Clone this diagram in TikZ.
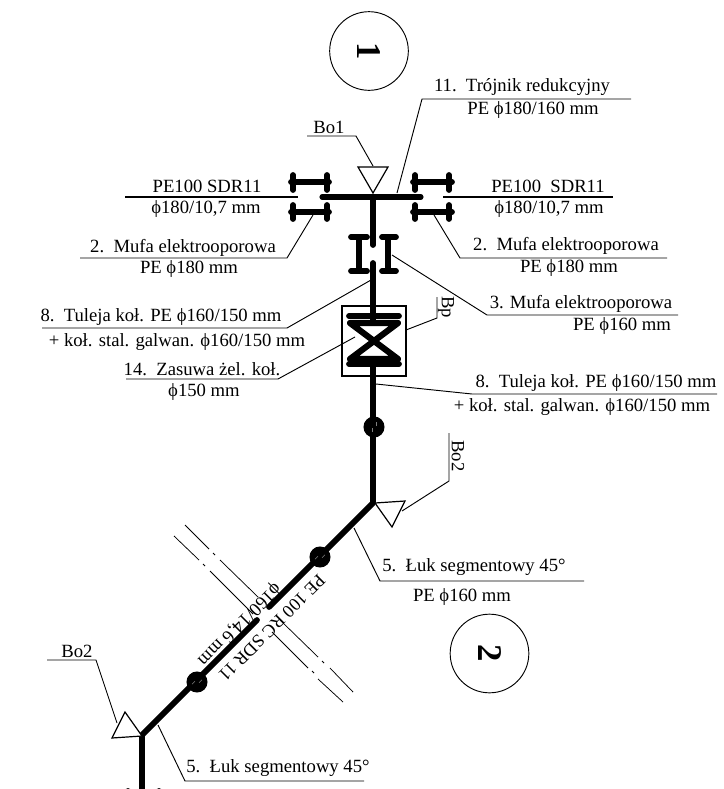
\documentclass[tikz,border=0pt]{standalone}
\usepackage{fontspec}
\setmainfont{Liberation Serif}
\tikzset{
  pipeline/.style={line width=4.3pt},
  mufaline/.style={line width=4.3pt,line cap=round},
  leaderline/.style={line width=0.7pt},
  capt/.style={font=\fontsize{14}{16}\selectfont,inner sep=0pt},
  symb/.style={draw,line width=0.9pt,fill=white},
  axisline/.style={line width=0.55pt},
  ball/.style={circle,fill=black,minimum size=15.8pt,inner sep=0pt},
  hatchline/.style={gray,line width=0.4pt},
  sheetcirc/.style={circle,draw,line width=0.7pt,minimum size=59pt,inner sep=0pt,font=\fontsize{26}{28}\selectfont\bfseries,rotate=-90},
}
\begin{document}
\begin{tikzpicture}[x=0.75pt,y=-0.75pt]
    \useasboundingbox (0,0) rectangle (724,789);
    % sheet markers
    \node[sheetcirc] (s1) at (369,51) {1};
    \node[sheetcirc] (s2) at (489.5,653.5) {2};
    % pipe
    \coordinate (tee) at (373,197);
    \coordinate (elbowA) at (373,503);
    \coordinate (elbowB) at (142,735);
    \draw[line width=2pt] (125,197) -- (298,197);
    \draw[line width=2pt] (443,197) -- (613,197);
    \draw[line width=3.8pt,line cap=round] (322,197) -- (421,197);
    \draw[pipeline,line cap=round] (tee) -- (373,245);
    \draw[pipeline,line cap=round] (373,263) -- (373,320);
    \draw[pipeline] (373,362) -- (elbowA);
    \draw[pipeline,line cap=round] (elbowA) -- (269,607);
    \draw[pipeline,line cap=round] (257,620) -- (elbowB);
    \draw[pipeline] (elbowB) -- (142,789);
    % couplings on the main
    \foreach \xa/\xb/\xc/\xd in {291/329/293/327,413/452/415/449}{
      \draw[mufaline] (\xa,182) -- (\xb,182);
      \draw[mufaline] (\xc,175) -- (\xc,190);
      \draw[mufaline] (\xd,175) -- (\xd,190);
      \draw[mufaline] (\xa,212) -- (\xb,212);
      \draw[mufaline] (\xc,205) -- (\xc,219);
      \draw[mufaline] (\xd,205) -- (\xd,219);
    }
    % coupling on the branch
    \foreach \xa/\xb/\xc in {351/367/359,382/396/388}{
      \draw[mufaline] (\xc,237) -- (\xc,271);
      \draw[mufaline] (\xa,237) -- (\xb,237);
      \draw[mufaline] (\xa,271) -- (\xb,271);
    }
    % bottom coupling, cut off by the sheet edge
    \draw[mufaline] (128,791) -- (128,800);
    \draw[mufaline] (159,791) -- (159,800);
    % valve
    \node[draw,line width=0.9pt,minimum width=48pt,minimum height=52.5pt,inner sep=0pt] (box) at (374,341) {};
    \draw[mufaline] (349,316) -- (399,316);
    \draw[mufaline] (349,364) -- (399,364);
    \draw[line width=4.6pt,line join=round] (350,323) -- (398,323) -- (350,359) -- (398,359) -- cycle;
    % balls
    \foreach \px/\py/\ang in {374/427/90,320/557/45,197/682/45}{
      \node[ball] (b\px) at (\px,\py) {};
      \draw[hatchline,rotate around={\ang:(\px,\py)}] (\px-5,\py-2) -- (\px-1,\py-2) (\px+1,\py+2) -- (\px+5,\py+2);
    }
    % triangles
    \draw[symb] (358,167) -- (388,167) -- (373,193) -- cycle;
    \draw[symb] (375,503) -- (405,501) -- (392,527) -- cycle;
    \draw[symb] (142,736) -- (112,738) -- (125,712) -- cycle;
    % axes
    \draw[axisline] (185,525) -- (209,549) (213,553) -- (215,555) (220,560) -- (258,597);
    \draw[axisline] (280,620) -- (318,657) (322,661) -- (324,663) (330,668) -- (353,692);
    \draw[axisline] (174,536) -- (199,560) (203,564) -- (205,566) (210,571) -- (253,614);
    \draw[axisline] (272,632) -- (308,668) (312,671) -- (314,673) (318,679) -- (343,702);
    % leaders
    \draw[leaderline] (373,166) -- (356,136) -- (307,136);
    \draw[leaderline] (397,193) -- (422,99) -- (631,99);
    \draw[leaderline] (313,215) -- (287,258) -- (80,258);
    \draw[leaderline] (434,215) -- (460,258) -- (667,258);
    \draw[leaderline] (392,255) -- (487,315) -- (678,315);
    \draw[leaderline] (406,330) -- (437,318) -- (437,297);
    \draw[leaderline] (371,280) -- (287,328) -- (42,328);
    \draw[leaderline] (355,337) -- (278,379) -- (126,379);
    \draw[leaderline] (376,384) -- (472,394) -- (717,394);
    \draw[leaderline] (402,511) -- (449,481) -- (449,433);
    \draw[leaderline] (117,723) -- (96,660) -- (47,660);
    \draw[leaderline] (354,528) -- (380,581) -- (584,581);
    \draw[leaderline] (158,725) -- (185,781) -- (364,781);
    % captions
    \node[capt] (bo1) at (329,127) {Bo1};
    \node[capt] (t11a) at (522,87) {11.\ \ Trójnik redukcyjny};
    \node[capt] (t11b) at (533,110) {PE ϕ180/160 mm};
    \node[capt] (pl1) at (207,186) {PE100 SDR11};
    \node[capt] (pl2) at (206,209) {ϕ180/10,7 mm};
    \node[capt] (pr1) at (548,186) {PE100\ \ SDR11};
    \node[capt] (pr2) at (549,209) {ϕ180/10,7 mm};
    \node[capt] (ml1) at (183,248) {2.\ \ Mufa elektrooporowa};
    \node[capt] (ml2) at (189,269) {PE ϕ180 mm};
    \node[capt] (mr1) at (566,246) {2.\ \ Mufa elektrooporowa};
    \node[capt] (mr2) at (569,268) {PE ϕ180 mm};
    \node[capt] (m31) at (581,304) {3. Mufa elektrooporowa};
    \node[capt] (m32) at (622,326) {PE ϕ160 mm};
    \node[capt,rotate=-90] (bp) at (446,307) {Bp};
    \node[capt] (tl1) at (161,317) {8.\ \ Tuleja koł. PE ϕ160/150 mm};
    \node[capt] (tl2) at (177,342) {+ koł. stal. galwan. ϕ160/150 mm};
    \node[capt] (z1) at (202,369) {14.\ \ Zasuwa żel. koł.};
    \node[capt] (z2) at (204,392) {ϕ150 mm};
    \node[capt] (tr1) at (596,383) {8.\ \ Tuleja koł. PE ϕ160/150 mm};
    \node[capt] (tr2) at (582,407) {+ koł. stal. galwan. ϕ160/150 mm};
    \node[capt,rotate=-90] (bo2a) at (458,456) {Bo2};
    \node[capt] (bo2b) at (77,651) {Bo2};
    \node[capt] (l1) at (474,567) {5.\ \ Łuk segmentowy 45°};
    \node[capt] (l2) at (462,597) {PE ϕ160 mm};
    \node[capt] (l3) at (278,768) {5.\ \ Łuk segmentowy 45°};
    \node[capt,rotate=-135,font=\fontsize{13.5}{16}\selectfont] (pa) at (272,628) {PE 100 RC SDR 11};
    \node[capt,rotate=-135] (pb) at (239,624) {ϕ160/14,6 mm};
\end{tikzpicture}
\end{document}
